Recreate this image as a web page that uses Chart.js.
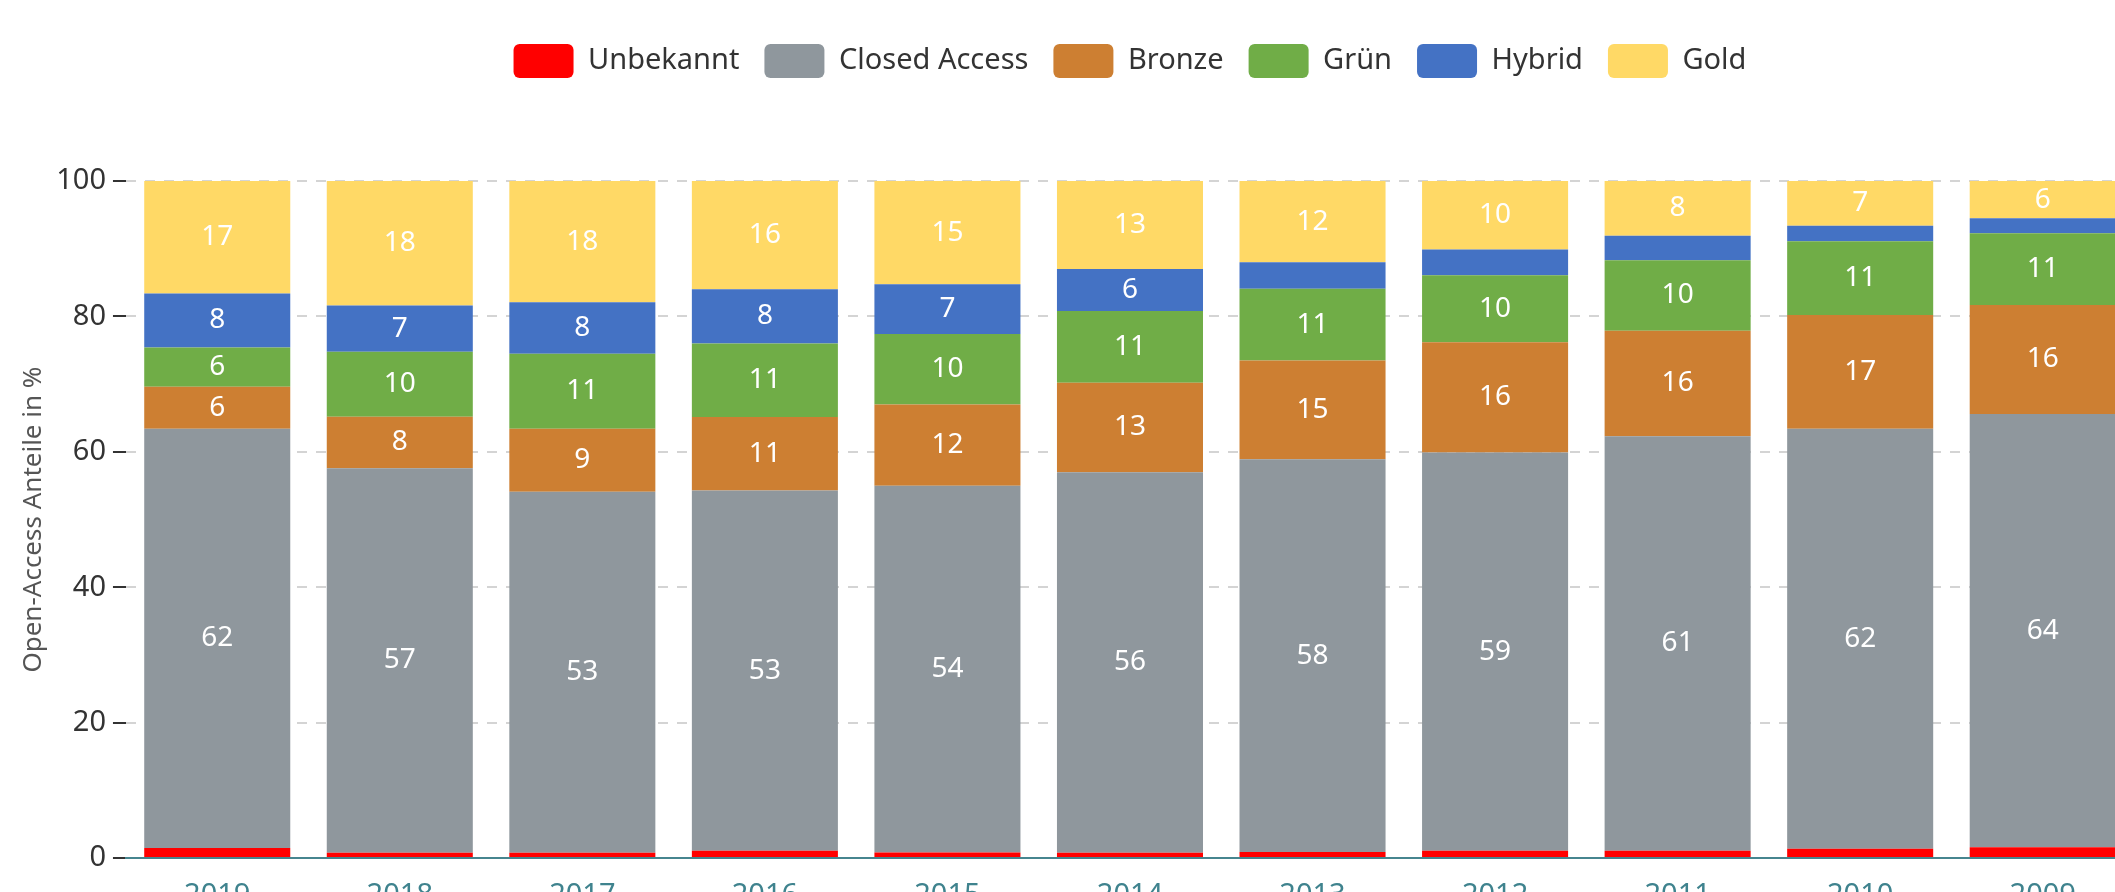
<!DOCTYPE html>
<html lang="de">
<head>
<meta charset="utf-8">
<title>Open-Access Anteile</title>
<script src="https://cdn.jsdelivr.net/npm/chart.js@4.4.1/dist/chart.umd.min.js"></script>
<style>
  html, body { margin: 0; padding: 0; overflow: hidden; background: #fff; }
  canvas { display: block; }
</style>
</head>
<body>
<canvas id="oaChart" width="2160" height="940"></canvas>
<script>
// Anteile in % je Jahr
const years = ['2019', '2018', '2017', '2016', '2015', '2014', '2013', '2012', '2011', '2010', '2009'];
const unbekannt = [1.5, 0.8, 0.8, 1.1, 0.85, 0.8, 0.9, 1.1, 1.1, 1.4, 1.6];
const closedAccess = [61.9, 56.8, 53.3, 53.2, 54.15, 56.2, 58.0, 58.8, 61.2, 62.0, 64.0];
const bronze = [6.2, 7.6, 9.3, 10.85, 12.0, 13.2, 14.6, 16.3, 15.6, 16.8, 16.1];
const gruen = [5.8, 9.6, 11.1, 10.85, 10.4, 10.6, 10.6, 9.9, 10.4, 10.9, 10.6];
const hybrid = [8.0, 6.8, 7.6, 8.0, 7.35, 6.2, 3.9, 3.8, 3.6, 2.3, 2.2];
const gold = [16.6, 18.4, 17.9, 16.0, 15.25, 13.0, 12.0, 10.1, 8.1, 6.6, 5.5];
const yTicks = [0, 20, 40, 60, 80, 100];

Chart.defaults.font.family = "'Noto Sans', sans-serif";

// white value labels inside the segments (only for bigger ones)
const segmentLabels = {
    id: 'segmentLabels',
    afterDatasetsDraw(chart) {
        const ctx = chart.ctx;
        ctx.save();
        ctx.font = "28px 'Noto Sans', sans-serif";
        ctx.fillStyle = '#ffffff';
        ctx.textAlign = 'center';
        ctx.textBaseline = 'middle';
        chart.data.datasets.forEach(function(ds, i) {
            const meta = chart.getDatasetMeta(i);
            if (meta.hidden) return;
            meta.data.forEach(function(bar, j) {
                const v = ds.data[j];
                if (v < 5) return;
                ctx.fillText(String(Math.round(v)), bar.x, (bar.y + bar.base) / 2);
            });
        });
        ctx.restore();
    }
};

// more room between legend and plot
const legendGap = {
    id: 'legendGap',
    beforeInit(chart) {
        const fit = chart.legend.fit;
        chart.legend.fit = function() {
            fit.call(this);
            this.height += 93;
        };
    }
};

const ctx = document.getElementById('oaChart').getContext('2d');
const oaChart = new Chart(ctx, {
    type: 'bar',
    data: {
        labels: years,
        datasets: [
            { label: 'Unbekannt', data: unbekannt, backgroundColor: '#ff0000' },
            { label: 'Closed Access', data: closedAccess, backgroundColor: '#8f979d' },
            { label: 'Bronze', data: bronze, backgroundColor: '#cd7f32' },
            { label: 'Grün', data: gruen, backgroundColor: '#70ad47' },
            { label: 'Hybrid', data: hybrid, backgroundColor: '#4472c4' },
            { label: 'Gold', data: gold, backgroundColor: '#ffd966' }
        ]
    },
    options: {
        responsive: false,
        animation: false,
        devicePixelRatio: 1,
        datasets: {
            bar: { borderWidth: 0, categoryPercentage: 0.8, barPercentage: 1.0 }
        },
        layout: { padding: { top: 19, left: 18, right: 26, bottom: 15 } },
        plugins: {
            legend: {
                fullSize: false,
                labels: {
                    boxWidth: 60,
                    boxHeight: 34,
                    useBorderRadius: true,
                    borderRadius: 6,
                    padding: 25,
                    color: '#333',
                    font: { size: 29 }
                }
            },
            tooltip: { enabled: false }
        },
        scales: {
            x: {
                stacked: true,
                grid: { display: false },
                border: { display: true, color: '#46858f', width: 2, z: 1 },
                ticks: { color: '#3f838e', padding: 12, font: { size: 29 } }
            },
            y: {
                stacked: true,
                min: 0,
                max: 100,
                afterBuildTicks: function(scale) {
                    scale.ticks = yTicks.map(function(v) { return { value: v }; });
                },
                ticks: { color: '#333', padding: 7, font: { size: 29 } },
                border: { display: false, dash: [10, 9] },
                grid: {
                    color: '#d4d4d4',
                    lineWidth: 2,
                    tickColor: '#333',
                    tickLength: 13,
                    tickWidth: 2,
                    tickBorderDash: []
                },
                title: {
                    display: true,
                    text: 'Open-Access Anteile in %',
                    color: '#555',
                    font: { size: 26 },
                    padding: { top: 0, bottom: 0 }
                }
            }
        }
    },
    plugins: [segmentLabels, legendGap]
});
</script>
</body>
</html>
